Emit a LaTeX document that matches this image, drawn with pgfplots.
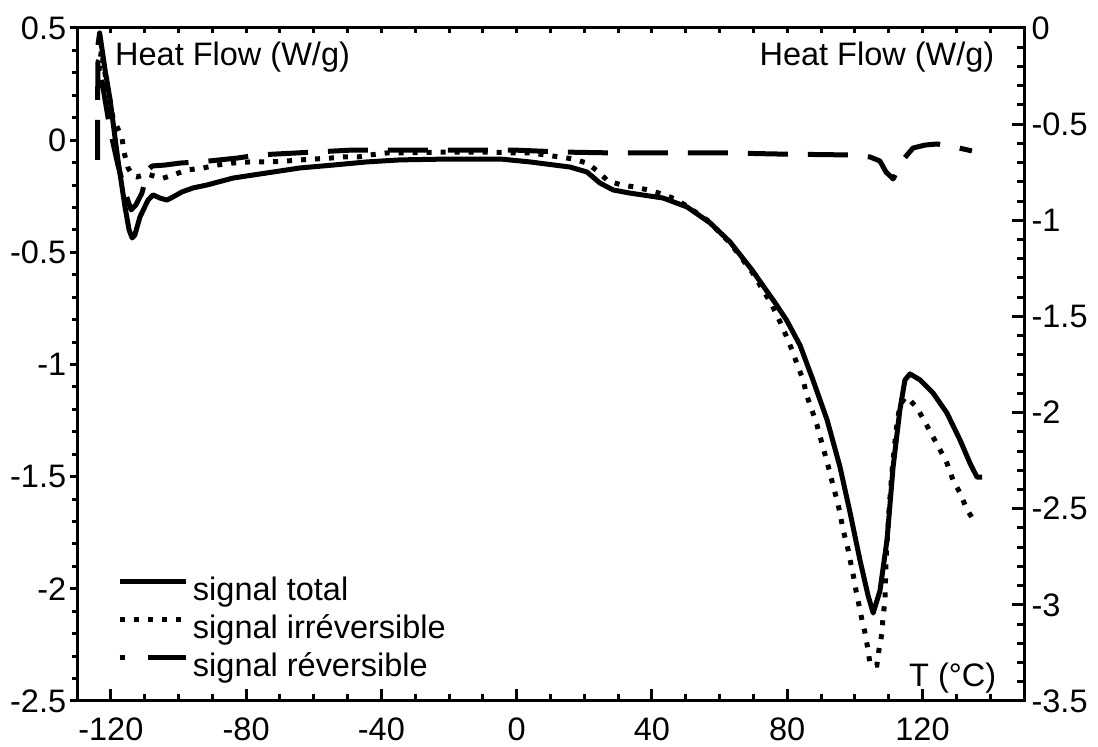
\documentclass[border=0pt]{standalone}
\usepackage{fontspec}
\setmainfont{Liberation Sans}
\usepackage{pgfplots}
\pgfplotsset{compat=1.18}
\newcommand{\tl}[1]{\hbox{\fontsize{13}{15}\selectfont #1}}
\pgfplotsset{
  common/.style={
    width=378.8pt, height=269.2pt, scale only axis,
    xmin=-130, xmax=150,
    axis line style={line width=1.2pt, line cap=rect},
    every tick/.style={line width=1.2pt, black},
  },
}
\begin{document}
\begin{tikzpicture}
% top ticks
\begin{axis}[common, ymin=0, ymax=1, axis x line*=top, hide y axis, tick align=inside,
  xtick={-120,-110,...,140}, xticklabel=\empty, major tick length=2pt]
\end{axis}
% left axis
\begin{axis}[common, ymin=-2.5, ymax=0.5, axis y line*=left, hide x axis, tick align=outside,
  ytick={-2.5,-2,-1.5,-1,-0.5,0,0.5},
  yticklabels={\tl{-2.5},\tl{-2},\tl{-1.5},\tl{-1},\tl{-0.5},\tl{0},\tl{0.5}},
  yticklabel style={xshift=2pt},
  minor y tick num=4, major tick length=2.8pt, minor tick length=1.8pt]
\end{axis}
% right axis
\begin{axis}[common, ymin=-3.5, ymax=0, axis y line*=right, hide x axis, tick align=inside,
  ytick={-3.5,-3,-2.5,-2,-1.5,-1,-0.5,0},
  yticklabels={\tl{-3.5},\tl{-3},\tl{-2.5},\tl{-2},\tl{-1.5},\tl{-1},\tl{-0.5},\tl{0}},
  yticklabel style={xshift=-0.5pt},
  minor y tick num=4, major tick length=4.8pt, minor tick length=2.8pt]
\end{axis}
% main data axis
\begin{axis}[common, name=main, ymin=-2.5, ymax=0.5, axis x line*=bottom, hide y axis, tick align=inside,
  xtick={-120,-80,-40,0,40,80,120},
  xticklabels={\tl{-120},\tl{-80},\tl{-40},\tl{0},\tl{40},\tl{80},\tl{120}},
  xticklabel style={yshift=-3pt},
  minor xtick={-110,-100,-90,-70,-60,-50,-30,-20,-10,10,20,30,50,60,70,90,100,110,130,140},
  major tick length=4.8pt, minor tick length=2.8pt,
  legend style={at={(0.0422,0.186)}, anchor=north west, draw=none, fill=none,
    font=\fontsize{13}{15}\selectfont, inner sep=0pt, row sep=3pt,
    nodes={inner sep=0pt, text height=9.5pt, text depth=2.7pt}},
  legend cell align=left,
  legend image code/.code={\draw[#1] (0pt,4pt) -- (26.4pt,4pt); \path (28.2pt,4pt);},
  ]
\addplot[black, line width=2pt, line join=round] coordinates {
(-123.8,0.424) (-123.3,0.478) (-121.7,0.313) (-120.2,0.179) (-117.9,-0.088) (-115.8,-0.298)
(-114.6,-0.400) (-113.7,-0.436) (-112.9,-0.423) (-111.4,-0.343) (-109.0,-0.267) (-107.5,-0.244)
(-105.5,-0.258) (-103.4,-0.267) (-101.6,-0.253) (-99.0,-0.231) (-95.7,-0.213) (-91.6,-0.200)
(-83.9,-0.169) (-73.8,-0.146) (-64.1,-0.124) (-54.3,-0.111) (-44.3,-0.097) (-34.5,-0.088)
(-19.7,-0.084) (-4.9,-0.084) (3.9,-0.097) (15.8,-0.120) (20.8,-0.142) (24.6,-0.191)
(28.5,-0.222) (33.5,-0.236) (43.3,-0.258) (50.4,-0.298) (57.2,-0.369) (63.1,-0.454)
(69.6,-0.579) (76.4,-0.725) (79.9,-0.805) (83.8,-0.915) (87.6,-1.069) (91.8,-1.248)
(95.6,-1.457) (98.6,-1.662) (101.5,-1.872) (103.9,-2.030) (105.4,-2.108) (107.4,-2.010)
(109.5,-1.782) (111.3,-1.457) (113.3,-1.203) (114.8,-1.069) (116.3,-1.042) (119.3,-1.069)
(123.1,-1.127) (127.2,-1.216) (131.1,-1.337) (134.0,-1.439) (136.1,-1.502) (137.6,-1.502)
};
\addlegendentry{signal total}
\addplot[black, line width=2pt, dash pattern=on 2pt off 3.6pt] coordinates {
(-123.5,0.31) (-122.8,0.40) (-121.4,0.268) (-119.4,0.103) (-116.7,0.010) (-116.1,-0.053)
(-114.9,-0.124) (-113.4,-0.160) (-112.3,-0.164) (-109.3,-0.151) (-106.0,-0.165) (-104.6,-0.170)
(-101.6,-0.155) (-97.5,-0.133) (-92.7,-0.124) (-88.6,-0.111) (-83.9,-0.102) (-78.8,-0.097)
(-72.9,-0.097) (-67.9,-0.093) (-64.1,-0.088) (-59.6,-0.084) (-55.2,-0.080) (-51.3,-0.075)
(-46.9,-0.075) (-43.4,-0.066) (-38.3,-0.057) (-34.5,-0.057) (-20.6,-0.053) (-8.8,-0.053)
(0.1,-0.057) (4.5,-0.057) (8.4,-0.066) (12.8,-0.075) (16.7,-0.084) (20.8,-0.102)
(23.8,-0.137) (27.0,-0.182) (31.1,-0.200) (35.0,-0.209) (38.8,-0.222) (43.0,-0.240)
(46.8,-0.262) (49.8,-0.289) (53.3,-0.325) (56.3,-0.356) (63.1,-0.458) (69.6,-0.588)
(75.5,-0.735) (77.9,-0.811) (79.6,-0.869) (81.4,-0.935) (82.9,-0.998) (84.7,-1.069)
(85.8,-1.140) (87.3,-1.203) (88.8,-1.270) (90.0,-1.337) (91.2,-1.403) (92.4,-1.470)
(93.5,-1.537) (94.7,-1.604) (95.6,-1.662) (96.5,-1.738) (97.7,-1.805) (98.6,-1.872)
(99.5,-1.938) (100.3,-2.005) (101.2,-2.072) (102.1,-2.139) (103.0,-2.197) (103.9,-2.273)
(104.5,-2.340) (106.5,-2.340) (107.1,-2.273) (108.0,-2.197) (108.3,-2.130) (108.9,-2.050)
(109.2,-1.872) (110.1,-1.649) (111.0,-1.470) (112.2,-1.292) (113.3,-1.181) (114.8,-1.149)
(115.4,-1.145) (118.4,-1.194) (120.7,-1.256) (123.1,-1.323) (125.2,-1.381) (127.2,-1.439)
(129.0,-1.515) (131.1,-1.573) (133.2,-1.649) (135.5,-1.702)
};
\addlegendentry{signal irréversible}
\addplot[black, line width=2pt, line join=round, dash pattern=on 16pt off 8pt,
  legend image code/.code={\draw[black, line width=2pt] (0pt,4pt) -- (2.2pt,4pt);
    \draw[black, line width=2pt] (11.2pt,4pt) -- (26.4pt,4pt); \path (28.2pt,4pt);}] coordinates {
(-123.9,-0.088) (-123.9,0.179) (-123.8,0.348) (-123.5,0.357) (-122.9,0.290) (-121.7,0.179)
(-120.2,0.045) (-117.9,-0.111) (-115.5,-0.244) (-114.0,-0.311) (-112.6,-0.289) (-110.8,-0.236)
(-109.0,-0.133) (-107.8,-0.115) (-104.0,-0.111) (-99.5,-0.102) (-93.6,-0.097) (-82.7,-0.080)
(-76.5,-0.066) (-65.0,-0.057) (-48.4,-0.044) (-28.6,-0.044) (-1.1,-0.044) (13.7,-0.053)
(28.5,-0.057) (48.3,-0.057) (62.2,-0.057) (77.9,-0.062) (98.6,-0.066) (104.5,-0.075)
(107.4,-0.093) (109.2,-0.142) (111.3,-0.173) (114.2,-0.088) (117.2,-0.035) (120.7,-0.022)
(124.3,-0.017) (129.6,-0.031) (134.6,-0.048)
};
\addlegendentry{signal réversible}
\node[anchor=base west, font=\fontsize{13}{15}\selectfont] at (rel axis cs:0.031,0.945) {Heat Flow (W/g)};
\node[anchor=base east, font=\fontsize{13}{15}\selectfont] at (rel axis cs:0.978,0.945) {Heat Flow (W/g)};
\node[anchor=base east, font=\fontsize{13}{15}\selectfont] at (rel axis cs:0.98,0.021) {T (°C)};
\end{axis}
\pgfresetboundingbox
\path ([xshift=-30.8pt,yshift=-18.4pt]main.south west) rectangle ([xshift=29.6pt,yshift=11.2pt]main.north east);
\end{tikzpicture}
\end{document}
